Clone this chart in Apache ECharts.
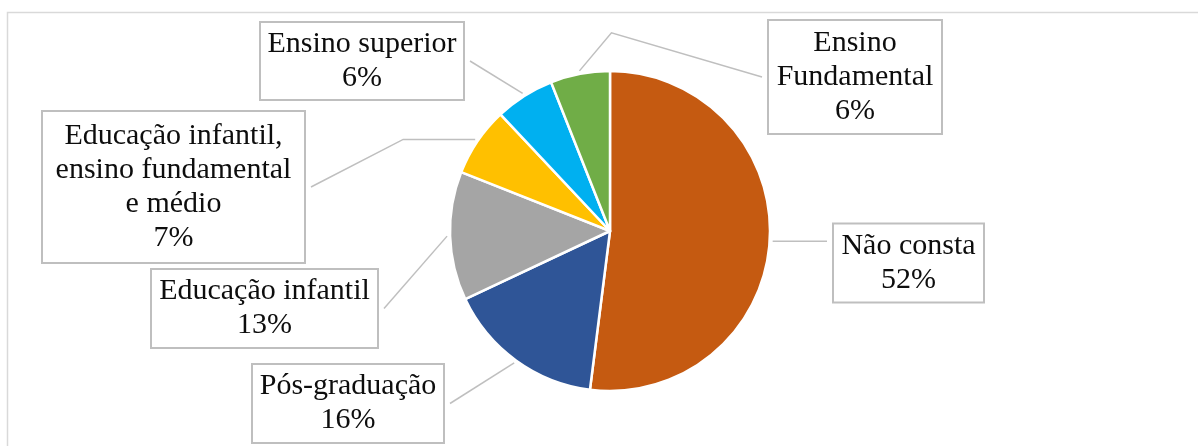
<!DOCTYPE html>
<html><head><meta charset="utf-8">
<script src="https://cdn.jsdelivr.net/npm/echarts@6/dist/echarts.min.js"></script>
<style>html,body{margin:0;padding:0;background:#fff}#chart{width:1198px;height:446px}</style>
</head><body><div id="chart"></div>
<script>
// ---- data ----
const categories = ['Não consta', 'Pós-graduação', 'Educação infantil', 'Educação infantil,\nensino fundamental\ne médio', 'Ensino superior', 'Ensino\nFundamental'];
const values = [52, 16, 13, 7, 6, 6];
const colors = ['#C55A11', '#2F5597', '#A5A5A5', '#FFC000', '#00B0F0', '#70AD47'];

// ---- layout / styling (not data) ----
const PIE_CENTER = [610, 231];
const PIE_RADIUS = 160;
const FONT_SIZE = 30;
const LINE_H = 34;
const GAP = 7;
const LABEL_BOXES = [
  { cx: 908.5, cy: 263, w: 149, h: 77, level: true },
  { cx: 348, cy: 403.5, w: 190, h: 77 },
  { cx: 264.5, cy: 308.5, w: 225, h: 77 },
  { cx: 173.5, cy: 187, w: 261, h: 150, bend: [-72, 0] },
  { cx: 362, cy: 61, w: 202, h: 76 },
  { cx: 855, cy: 77, w: 172, h: 112, bend: [32, -38] }
];
const PAD_X = 5;

const seriesData = categories.map(function (name, i) {
  const b = LABEL_BOXES[i];
  const lines = name.split('\n').length + 1;
  const padY = Math.max(0, (b.h - lines * LINE_H) / 2);
  return {
    name: name,
    value: values[i],
    itemStyle: { color: colors[i] },
    label: { width: b.w - 2 * PAD_X, padding: [padY, PAD_X, padY, PAD_X] }
  };
});

const chart = echarts.init(document.getElementById('chart'), null, { renderer: 'canvas' });
chart.setOption({
  backgroundColor: '#ffffff',
  animation: false,
  graphic: [{
    type: 'rect', silent: true, z: -10,
    shape: { x: 7.5, y: 12.5, width: 1400, height: 700 },
    style: { fill: 'none', stroke: '#D9D9D9', lineWidth: 1.5 }
  }],
  series: [{
    type: 'pie',
    center: PIE_CENTER,
    radius: PIE_RADIUS,
    startAngle: 90,
    clockwise: true,
    avoidLabelOverlap: false,
    data: seriesData,
    itemStyle: { borderColor: '#ffffff', borderWidth: 2.5 },
    label: {
      show: true,
      position: 'outside',
      overflow: 'none',
      fontFamily: 'Liberation Serif',
      fontSize: FONT_SIZE,
      lineHeight: LINE_H,
      color: '#0d0d0d',
      align: 'center',
      backgroundColor: '#ffffff',
      borderColor: '#BFBFBF',
      borderWidth: 2,
      formatter: function (p) { return p.name + '\n' + Math.round(p.percent) + '%'; }
    },
    labelLine: { show: true, length: 15, length2: 15, lineStyle: { color: '#BFBFBF', width: 1.5 } },
    labelLayout: function (p) {
      const b = LABEL_BOXES[p.dataIndex];
      const res = { x: b.cx, y: b.cy, align: 'center', verticalAlign: 'middle' };
      const pts = p.labelLinePoints;
      if (pts && pts.length > 1) {
        const a = pts[0], c = pts[1];
        const dx = c[0] - a[0], dy = c[1] - a[1];
        const L = Math.hypot(dx, dy) || 1;
        const s = [a[0] + dx / L * 3, a[1] + dy / L * 3];
        const line = [s];
        if (b.bend) line.push([s[0] + b.bend[0], s[1] + b.bend[1]]);
        const prev = line[line.length - 1];
        const leftSide = prev[0] < b.cx;
        const ex = leftSide ? b.cx - b.w / 2 - GAP : b.cx + b.w / 2 + GAP;
        const ey = b.level ? prev[1] : b.cy;
        line.push([ex, ey]);
        res.labelLinePoints = line;
      }
      return res;
    }
  }]
});
</script>
</body></html>
